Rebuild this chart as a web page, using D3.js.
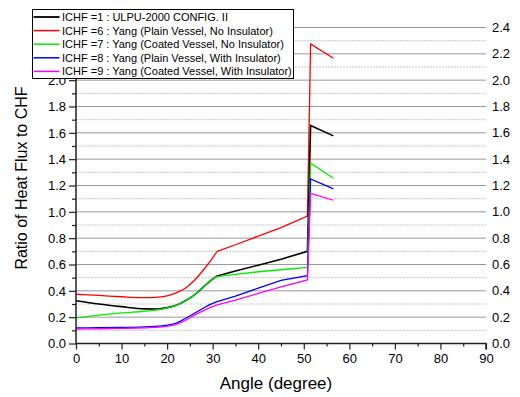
<!DOCTYPE html>
<html>
<head>
<meta charset="utf-8">
<script src="https://cdn.jsdelivr.net/npm/d3@7/dist/d3.min.js"></script>
<style>
  body { margin: 0; background: #fff; }
  text { font-family: "Liberation Sans", Arial, sans-serif; }
</style>
</head>
<body>
<div id="chart"></div>
<script>
// angles (degree) and ratio values
const angles = [0, 5, 10, 15, 18, 20, 22, 24, 26, 28, 30, 31, 35, 40, 45, 50.8, 51.5, 56.5];
const ichf1 = [0.325, 0.30, 0.28, 0.263, 0.262, 0.272, 0.29, 0.325, 0.37, 0.43, 0.49, 0.513, 0.55, 0.595, 0.64, 0.70, 1.655, 1.577];
const ichf6 = [0.374, 0.365, 0.355, 0.348, 0.352, 0.362, 0.385, 0.42, 0.48, 0.56, 0.65, 0.70, 0.75, 0.815, 0.88, 0.968, 2.276, 2.167];
const ichf7 = [0.195, 0.215, 0.232, 0.245, 0.255, 0.27, 0.29, 0.325, 0.37, 0.43, 0.49, 0.508, 0.525, 0.545, 0.56, 0.578, 1.369, 1.255];
const ichf8 = [0.118, 0.12, 0.122, 0.126, 0.132, 0.14, 0.155, 0.19, 0.23, 0.27, 0.305, 0.318, 0.36, 0.42, 0.48, 0.515, 1.25, 1.174];
const ichf9 = [0.11, 0.112, 0.115, 0.119, 0.124, 0.13, 0.145, 0.175, 0.215, 0.25, 0.28, 0.293, 0.33, 0.38, 0.43, 0.483, 1.141, 1.088];

const seriesNames = [
    'ICHF =1 : ULPU-2000 CONFIG. II',
    'ICHF =6 : Yang (Plain Vessel, No Insulator)',
    'ICHF =7 : Yang (Coated Vessel, No Insulator)',
    'ICHF =8 : Yang (Plain Vessel, With Insulator)',
    'ICHF =9 : Yang (Coated Vessel, With Insulator)'
];
const seriesColors = ['#000000', '#ff0000', '#00ee00', '#0000ff', '#ff00ff'];
const seriesValues = [ichf1, ichf6, ichf7, ichf8, ichf9];
// draw order: red underneath, magenta on top
const drawOrder = [1, 0, 2, 3, 4];
// index of the sharp bend at 31 degree; smooth before, straight after
const bendIndex = 11;

const xTicks = d3.range(0, 91, 10);
const yTicks = d3.range(0, 2.41, 0.2);

var svg = d3.select('#chart').append('svg').attr('width', 520).attr('height', 397),
    margin = { top: 27.5, right: 34, bottom: 53.5, left: 76 },
    width = 520 - margin.left - margin.right,
    height = 397 - margin.top - margin.bottom,
    g = svg.append('g').attr('transform', 'translate(' + margin.left + ',' + margin.top + ')');

var x = d3.scaleLinear().domain([0, 90]).range([0, width]);
var y = d3.scaleLinear().domain([0, 2.4]).range([height, 0]);

// grid lines
g.append('g').selectAll('line')
    .data(d3.range(1, 24, 2).map(function (i) { return i / 10; }))
    .enter().append('line')
    .attr('x1', 0).attr('x2', width)
    .attr('y1', function (d) { return y(d); }).attr('y2', function (d) { return y(d); })
    .attr('stroke', '#c8c8c8').attr('stroke-width', 1).attr('stroke-dasharray', '2,1');

g.append('g').selectAll('line')
    .data(yTicks.slice(1))
    .enter().append('line')
    .attr('x1', 0).attr('x2', width)
    .attr('y1', function (d) { return y(d); }).attr('y2', function (d) { return y(d); })
    .attr('stroke', '#999').attr('stroke-width', 1);

// series
var smooth = d3.line()
    .x(function (d) { return x(d[0]); })
    .y(function (d) { return y(d[1]); })
    .curve(d3.curveMonotoneX);
var straight = d3.line()
    .x(function (d) { return x(d[0]); })
    .y(function (d) { return y(d[1]); });

drawOrder.forEach(function (k) {
    var pts = angles.map(function (a, i) { return [a, seriesValues[k][i]]; });
    var d = smooth(pts.slice(0, bendIndex + 1)) + straight(pts.slice(bendIndex)).replace(/^M[^L]*/, '');
    g.append('path')
        .attr('fill', 'none')
        .attr('stroke', seriesColors[k])
        .attr('stroke-width', k === 0 ? 1.6 : 1.3)
        .attr('stroke-linejoin', 'miter')
        .attr('d', d);
});

// x axis
var xAxis = g.append('g')
    .attr('transform', 'translate(0,' + height + ')')
    .call(d3.axisBottom(x).tickValues(xTicks).tickSize(6).tickPadding(4).tickFormat(d3.format('d')));
g.append('g')
    .attr('transform', 'translate(0,' + height + ')')
    .call(d3.axisBottom(x).tickValues(d3.range(5, 90, 10)).tickSize(3).tickFormat(''))
    .select('.domain').remove();

// left axis (labels above 2.0 sit under the legend)
var yAxis = g.append('g')
    .call(d3.axisLeft(y).tickValues(yTicks).tickSize(7).tickPadding(3)
        .tickFormat(function (d) { return d > 2.05 ? '' : d3.format('.1f')(d); }));
g.append('g')
    .call(d3.axisLeft(y).tickValues(d3.range(1, 24, 2).map(function (i) { return i / 10; })).tickSize(4).tickFormat(''))
    .select('.domain').remove();

// right labels (no axis line)
g.append('g').selectAll('text')
    .data(yTicks)
    .enter().append('text')
    .attr('x', width + 6)
    .attr('y', function (d) { return y(d); })
    .attr('dy', '0.35em')
    .attr('font-size', '13px')
    .attr('fill', '#000')
    .text(function (d) { return d3.format('.1f')(d); });

svg.selectAll('.domain').attr('stroke', '#222').attr('stroke-width', 1.5);
svg.selectAll('.tick line').attr('stroke', '#222').attr('stroke-width', 1.2);
svg.selectAll('.tick text')
    .attr('font-size', '13px')
    .attr('font-family', '"Liberation Sans", Arial, sans-serif')
    .attr('fill', '#000');
yAxis.select('.domain').attr('d', 'M0,' + height + 'V0');
xAxis.select('.domain').attr('d', 'M0,0H' + width + 'V6');

// axis titles
svg.append('text')
    .attr('x', margin.left + width / 2 - 5)
    .attr('y', 389)
    .attr('text-anchor', 'middle')
    .attr('font-size', '17px')
    .text('Angle (degree)');

svg.append('text')
    .attr('transform', 'translate(27,178) rotate(-90)')
    .attr('text-anchor', 'middle')
    .attr('font-size', '16px')
    .text('Ratio of Heat Flux to CHF');

// legend
var legend = svg.append('g').attr('transform', 'translate(32.5,9.5)');
legend.append('rect')
    .attr('width', 261).attr('height', 69)
    .attr('fill', '#fff').attr('stroke', '#000').attr('stroke-width', 1);

seriesNames.forEach(function (name, i) {
    var row = legend.append('g').attr('transform', 'translate(0,' + (7.5 + i * 13.6) + ')');
    row.append('line')
        .attr('x1', 1).attr('x2', 27)
        .attr('stroke', seriesColors[i]).attr('stroke-width', i === 0 ? 1.8 : 1.5);
    row.append('text')
        .attr('x', 29.5).attr('dy', '0.36em')
        .attr('font-size', '11px')
        .text(name);
});
</script>
</body>
</html>
